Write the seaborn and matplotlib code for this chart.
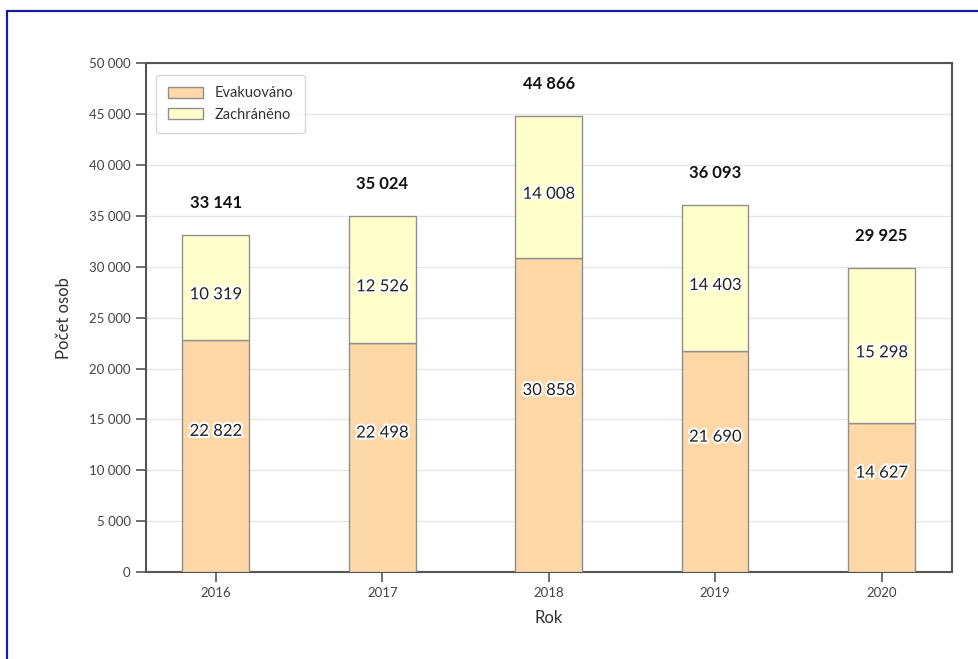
import matplotlib
matplotlib.use("Agg")
import matplotlib.pyplot as plt
import matplotlib.patheffects as pe
from matplotlib.lines import Line2D
import seaborn as sns
import pandas as pd

# --- Data ---
years = ["2016", "2017", "2018", "2019", "2020"]
evakuovano = [22822, 22498, 30858, 21690, 14627]
zachraneno = [10319, 12526, 14008, 14403, 15298]
totals = [a + b for a, b in zip(evakuovano, zachraneno)]

df = pd.DataFrame({"Rok": years, "Evakuováno": evakuovano, "Zachráněno": zachraneno})

sns.set_theme(style="white")
plt.rcParams["font.family"] = ["Lato", "DejaVu Sans"]


def fmt(v):
    return f"{v:,}".replace(",", " ")


fig = plt.figure(figsize=(9.79, 6.59), dpi=100)
ax = fig.add_axes([0.149, 0.132, 0.823, 0.772])

c_evak = "#FDD7A5"
c_zach = "#FFFFCC"
edge = "#8f8f8f"

sns.barplot(data=df, x="Rok", y="Evakuováno", color=c_evak, width=0.4, saturation=1,
            edgecolor=edge, linewidth=1, ax=ax, label="Evakuováno", zorder=3)
sns.barplot(data=df, x="Rok", y="Zachráněno", color=c_zach, width=0.4, saturation=1,
            edgecolor=edge, linewidth=1, ax=ax, label="Zachráněno",
            bottom=df["Evakuováno"], zorder=3)

# in-bar labels with white halo
halo = [pe.withStroke(linewidth=3, foreground="white")]
for i, (e, z, t) in enumerate(zip(evakuovano, zachraneno, totals)):
    ax.annotate(fmt(e), (i, e / 2), xytext=(0, 18), textcoords="offset points",
                ha="center", va="center", fontsize=12, color="#222222",
                path_effects=halo, zorder=5)
    ax.annotate(fmt(z), (i, e + z / 2), xytext=(0, -5), textcoords="offset points",
                ha="center", va="center", fontsize=12, color="#222222",
                path_effects=halo, zorder=5)
    ax.annotate(fmt(t), (i, t), xytext=(0, 23), textcoords="offset points",
                ha="center", va="center", fontsize=12, fontweight="bold",
                color="#111111", zorder=5)

ax.set_ylim(0, 50000)
ax.set_xlim(-0.42, 4.42)
ax.set_yticks(range(0, 50001, 5000))
ax.set_yticklabels([fmt(v) for v in range(0, 50001, 5000)])
ax.yaxis.grid(True, color="#e6e6e6", linewidth=1, zorder=0)
ax.set_axisbelow(True)

for s in ax.spines.values():
    s.set_color("#555555")
    s.set_linewidth(1.5)
ax.tick_params(axis="both", direction="out", length=7, width=1.2, color="#555555",
               labelsize=9.5, labelcolor="#444444", pad=4, left=True, bottom=True)

ax.set_xlabel("Rok", fontsize=12, color="#333333", labelpad=8)
ax.set_ylabel("Počet osob", fontsize=12, color="#333333", labelpad=12)

leg = ax.legend(loc="upper left", fontsize=10.5, frameon=True, fancybox=True,
                edgecolor="#cccccc", borderpad=0.8, handlelength=2.4,
                handleheight=0.8, labelspacing=0.5, bbox_to_anchor=(0.004, 0.992))
for t in leg.get_texts():
    t.set_color("#333333")

# blue page frame (top and left edges)
top_y = 1 - 10.5 / 659
left_x = 7.5 / 979
fig.add_artist(Line2D([left_x, 1.0], [top_y, top_y], transform=fig.transFigure,
                      color="#1a1a9a", linewidth=1.6))
fig.add_artist(Line2D([left_x, left_x], [0.0, top_y], transform=fig.transFigure,
                      color="#1a1a9a", linewidth=1.6))

fig.savefig("out.png", dpi=100)
